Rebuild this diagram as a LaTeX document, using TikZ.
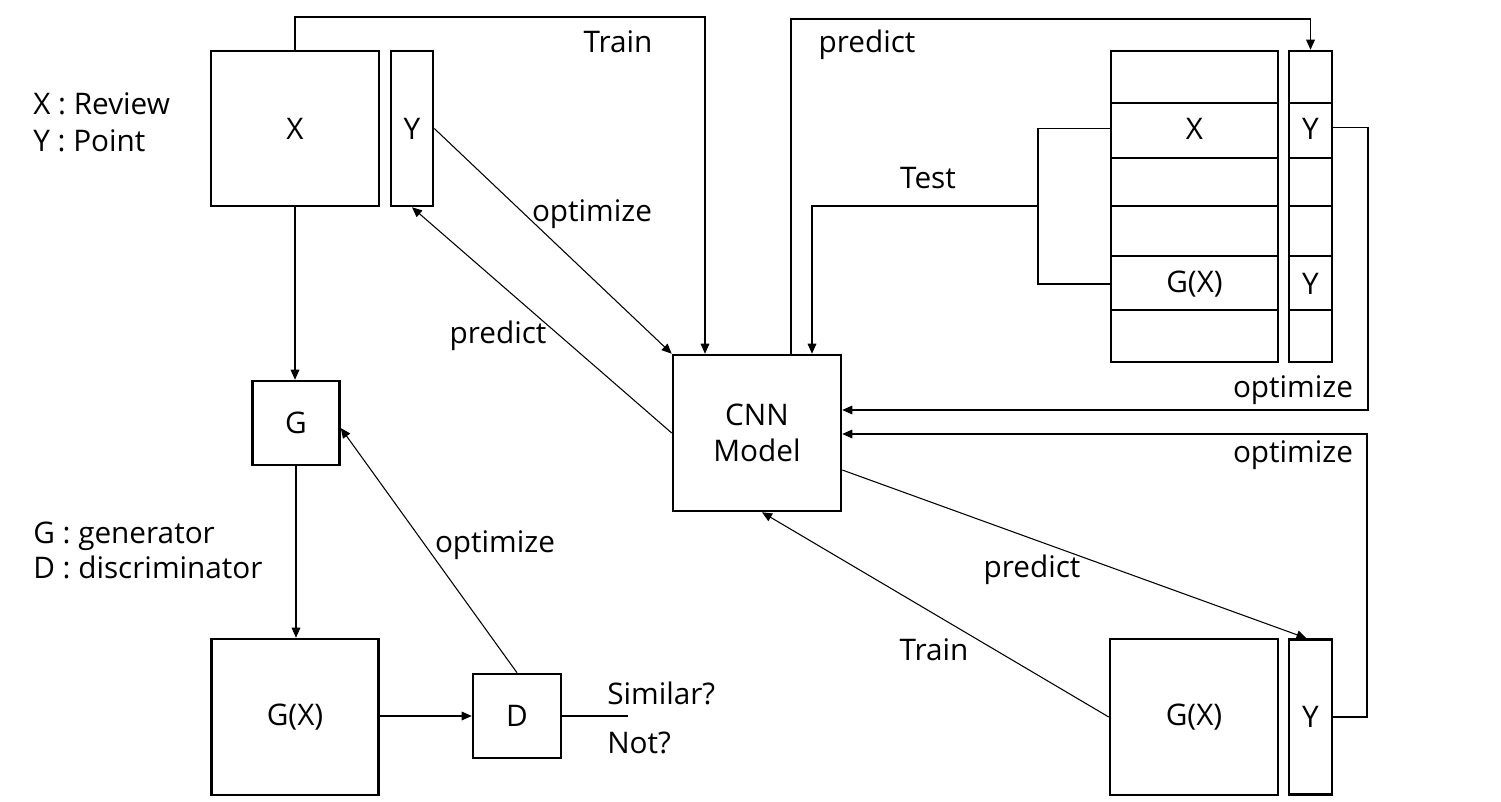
\documentclass[tikz,border=0pt]{standalone}
\usepackage{fontspec}
\setmainfont{Open Sans}
\usetikzlibrary{arrows.meta,calc}
\begin{document}
\begin{tikzpicture}[x=0.75pt,y=-0.75pt,
  every node/.style={font=\fontsize{22.3}{26}\selectfont, inner sep=0pt},
  box/.style={draw, line width=1.9pt, minimum width=#1},
  conn/.style={line width=0.8pt},
  arr/.style={conn, -{Triangle[length=7.5pt,width=6.5pt]}},
  lbl/.style={anchor=base},
  rowline/.style={line width=0.8pt}]
\useasboundingbox (0,0) rectangle (1501,802);
% left side
\node[box=126pt, minimum height=116.25pt] (lx) at (295,128.5) {X};
\node[box=31.5pt, minimum height=116.25pt] (ly) at (412,128.5) {Y};
\node[box=65.25pt, minimum height=63pt] (g) at (296,423) {G};
\node[box=125.25pt, minimum height=117pt] (lgx) at (295,717) {G(X)};
\node[box=66pt, minimum height=63pt] (d) at (517,716) {D};
% CNN
\node[box=126pt, minimum height=117pt, align=center, font=\fontsize{22.3}{27}\selectfont] (cnn) at (757,433) {CNN\\Model};
% right top stack
\node[box=125.25pt, minimum height=116.25pt] (tx) at (1194.5,128.5) {X};
\node[box=125.25pt, minimum height=117pt] (tg) at (1194.5,284) {G(X)};
\node[box=32.25pt, minimum height=116.25pt] (ty1) at (1310.5,128.5) {Y};
\node[box=32.25pt, minimum height=117pt] (ty2) at (1310.5,284) {Y};
\draw[rowline] (tx.west |- 0,103) -- (tx.east |- 0,103);
\draw[rowline] (tx.west |- 0,158) -- (tx.east |- 0,158);
\draw[rowline] (ty1.west |- 0,103) -- (ty1.east |- 0,103);
\draw[rowline] (ty1.west |- 0,158) -- (ty1.east |- 0,158);
\draw[rowline] (tg.west |- 0,256) -- (tg.east |- 0,256);
\draw[rowline] (tg.west |- 0,310) -- (tg.east |- 0,310);
\draw[rowline] (ty2.west |- 0,256) -- (ty2.east |- 0,256);
\draw[rowline] (ty2.west |- 0,310) -- (ty2.east |- 0,310);
% right bottom
\node[box=126pt, minimum height=117pt] (bgx) at (1194,717) {G(X)};
\node[box=32.25pt, minimum height=116.25pt] (by) at (1310.5,717) {Y};
% legends
\node[anchor=base west] (lg1) at (33,115) {X : Review};
\node[anchor=base west] (lg2) at (33,152) {Y : Point};
\node[anchor=base west] (lg3) at (33,543) {G : generator};
\node[anchor=base west] (lg4) at (33,578) {D : discriminator};
% coordinates
\coordinate (ctr) at (705,17);
\coordinate (ctb) at (1038,206);
\coordinate (cts) at (812,206);
\coordinate (cpr) at (791,19);
\coordinate (co1) at (1368,410);
\coordinate (co2) at (1367,434);
\coordinate (cdo) at (628,716);
% connectors
\draw[arr] (lx.north) |- (ctr) -- (ctr |- cnn.north);
\draw[arr] (ly.east) -- (cnn.north west);
\draw[arr] (cnn.west) -- (ly.south);
\draw[arr] (lx.south) -- (lx.south |- g.north);
\draw[arr] (g.south) -- (g.south |- lgx.north);
\draw[arr] (lgx.east |- d.west) -- (d.west);
\draw[conn] (d.east) -- (cdo);
\draw[arr] (d.north) -- ($(g.east)+(0,5)$);
\draw[conn] (tx.west) -| (ctb) |- (tg.west);
\draw[arr] (ctb) -- (cts) -- (cts |- cnn.north);
\draw[arr] (cpr |- cnn.north) -- (cpr) -| (ty1.north);
\draw[arr] ($(ty1.east)+(0,-1)$) -| (co1) -- (co1 -| cnn.east);
\draw[arr] (by.east) -| (co2) -- (co2 -| cnn.east);
\draw[arr] ($(cnn.east)+(0,37)$) -- ($(by.north)+(-4,0)$);
\draw[arr] (bgx.west) -- ($(cnn.south)+(5,0)$);
% labels
\node[lbl] (t1) at (618,53) {Train};
\node[lbl] (t2) at (592,222) {optimize};
\node[lbl] (t3) at (498,343) {predict};
\node[lbl] (t4) at (867,53) {predict};
\node[lbl] (t5) at (928,189) {Test};
\node[lbl] (t6) at (1293,397) {optimize};
\node[lbl] (t7) at (1293,462) {optimize};
\node[lbl] (t8) at (1032,577) {predict};
\node[lbl] (t9) at (934,660) {Train};
\node[lbl] (t10) at (495,552) {optimize};
\node[anchor=base west] (t11) at (607,704) {Similar?};
\node[anchor=base west] (t12) at (607,753) {Not?};
\end{tikzpicture}
\end{document}
